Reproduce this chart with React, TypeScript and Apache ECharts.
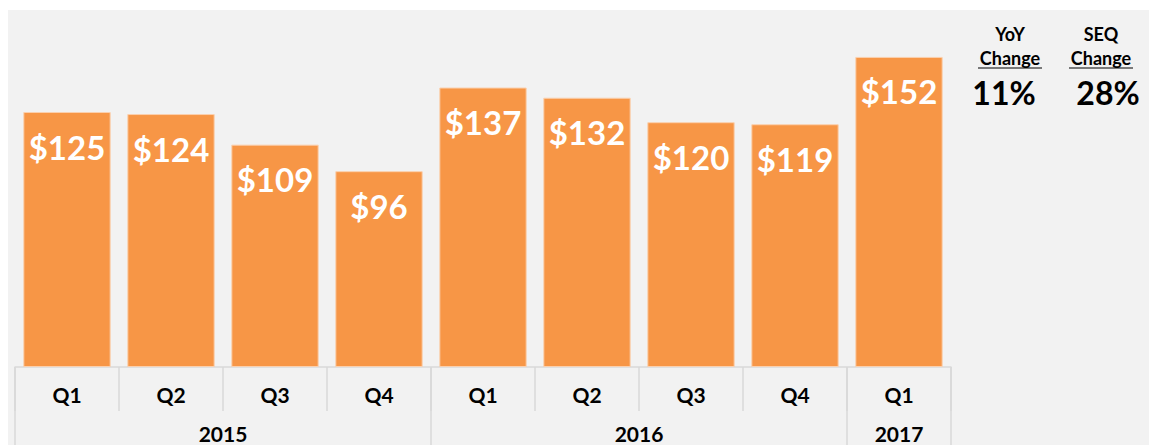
import React, { useEffect, useRef } from "react";
import * as echarts from "echarts";

const quarters = ["Q1", "Q2", "Q3", "Q4", "Q1", "Q2", "Q3", "Q4", "Q1"];
const revenue = [125, 124, 109, 96, 137, 132, 120, 119, 152];
const years = ["2015", "2016", "2017"];
const yearSpans = [4, 4, 1];
const changeTitles = ["YoY", "SEQ"];
const changeValues = ["11%", "28%"];

const FONT = "Lato, 'Open Sans', 'Liberation Sans', sans-serif";
const GRID_COLOR = "#d9d9d9";

export default function App() {
  const ref = useRef<HTMLDivElement>(null);

  useEffect(() => {
    if (!ref.current) return;
    const chart = echarts.init(ref.current, null, { renderer: "svg" });

    const bounds: number[] = [0];
    const centers: number[] = [];
    let acc = 0;
    yearSpans.forEach((s) => {
      centers.push(acc + s / 2);
      acc += s;
      bounds.push(acc);
    });

    const changeX = [1010, 1101];
    const graphic: any[] = [
      {
        type: "rect",
        z: -100,
        shape: { x: 8, y: 10, width: 1141, height: 435 },
        style: { fill: "#f2f2f2" },
        silent: true,
      },
    ];
    changeTitles.forEach((t, i) => {
      const cx = changeX[i];
      graphic.push({
        type: "text",
        x: cx,
        y: 34,
        style: {
          text: t,
          fill: "#000",
          font: `bold 18px ${FONT}`,
          align: "center",
          verticalAlign: "middle",
        },
      });
      graphic.push({
        type: "text",
        x: cx,
        y: 58,
        style: {
          text: "Change",
          fill: "#000",
          font: `bold 18px ${FONT}`,
          align: "center",
          verticalAlign: "middle",
        },
      });
      graphic.push({
        type: "line",
        shape: { x1: cx - 32, y1: 68, x2: cx + 32, y2: 68 },
        style: { stroke: "#000", lineWidth: 1.2 },
      });
      graphic.push({
        type: "text",
        x: cx + (i === 0 ? -6 : 7),
        y: 92,
        style: {
          text: changeValues[i],
          fill: "#000",
          font: `bold 32px ${FONT}`,
          align: "center",
          verticalAlign: "middle",
        },
      });
    });

    chart.setOption({
      animation: false,
      backgroundColor: "#ffffff",
      graphic,
      grid: { left: 15, right: 198, top: 10, bottom: 78 },
      xAxis: [
        {
          type: "category",
          data: quarters,
          position: "bottom",
          axisLine: { show: true, lineStyle: { color: GRID_COLOR, width: 1.5 } },
          axisTick: {
            show: true,
            interval: 0,
            length: 44,
            lineStyle: { color: GRID_COLOR, width: 1.5 },
          },
          axisLabel: {
            interval: 0,
            margin: 17,
            color: "#000",
            fontSize: 21,
            fontWeight: "bold",
            fontFamily: FONT,
          },
        },
        {
          type: "value",
          position: "bottom",
          min: 0,
          max: quarters.length,
          axisLine: { show: false },
          splitLine: { show: false },
          axisTick: {
            show: true,
            customValues: bounds,
            length: 78,
            lineStyle: { color: GRID_COLOR, width: 1.5 },
          },
          axisLabel: {
            customValues: centers,
            margin: 56,
            color: "#000",
            fontSize: 21,
            lineHeight: 21,
            fontWeight: "bold",
            fontFamily: FONT,
            formatter: (v: number) => {
              const idx = centers.findIndex((c) => Math.abs(c - v) < 1e-6);
              return idx >= 0 ? years[idx] : "";
            },
          },
        },
      ],
      yAxis: {
        type: "value",
        min: 0,
        max: 175,
        show: false,
        splitLine: { show: false },
      },
      series: [
        {
          type: "bar",
          xAxisIndex: 0,
          data: revenue,
          barCategoryGap: "16%",
          itemStyle: { color: "#f79646", borderColor: "#fbd0ae", borderWidth: 1 },
          label: {
            show: true,
            position: "insideTop",
            distance: 18,
            formatter: (p: any) => "$" + p.value,
            color: "#fff",
            fontSize: 33,
            lineHeight: 33,
            fontWeight: "bold",
            fontFamily: FONT,
          },
        },
      ],
    });

    return () => chart.dispose();
  }, []);

  return (
    <div
      ref={ref}
      style={{ position: "absolute", left: 0, top: 0, width: 1149, height: 445 }}
    />
  );
}
